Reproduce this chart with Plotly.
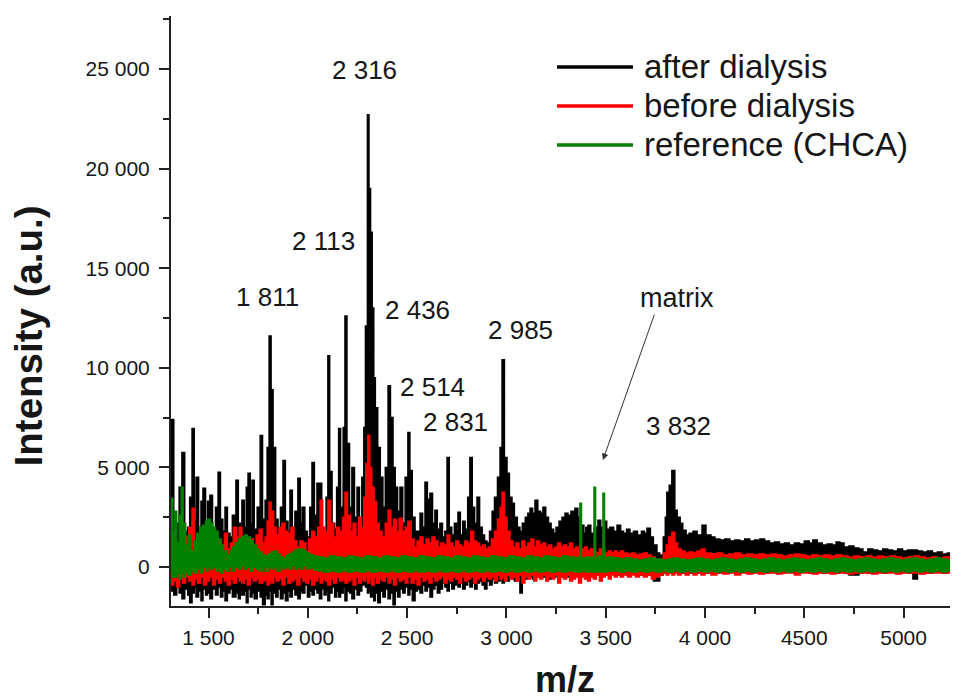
import plotly.graph_objects as go

# ---------------- data ----------------
after_mz = [1311,1325,1340,1352,1366,1380,1395,1405,1417,1428,
            1437,1450,1462,1472,1485,1495,1507,1520,1535,1548,
            1560,1572,1583,1595,1608,1620,1638,1650,1660,1668,
            1680,1690,1699,1710,1719,1730,1745,1760,1772,1785,
            1795,1805,1815,1825,1838,1850,1862,1875,1887,1900,
            1910,1922,1935,1950,1962,1971,1985,1998,2010,2021,
            2033,2046,2058,2070,2082,2092,2101,2110,2122,2135,
            2145,2155,2165,2178,2187,2197,2210,2222,2235,2248,
            2260,2272,2282,2290,2300,2308,2316,2324,2332,2340,
            2352,2365,2378,2390,2404,2416,2429,2440,2452,2464,
            2478,2490,2504,2514,2526,2540,2552,2565,2578,2590,
            2602,2615,2628,2640,2652,2665,2678,2690,2701,2712,
            2725,2738,2748,2756,2768,2780,2792,2805,2816,2828,
            2840,2852,2865,2878,2890,2902,2915,2928,2940,2955,
            2968,2978,2990,3003,3015,3028,3040,3055,3068,3080,
            3095,3108,3119,3132,3144,3158,3172,3184,3198,3212,
            3225,3238,3250,3265,3280,3295,3310,3325,3345,3360,
            3375,3390,3400,3411,3425,3441,3461,3475,3490,3505,
            3520,3540,3557,3575,3590,3605,3622,3640,3660,3680,
            3695,3708,3725,3740,3758,3772,3790,3800,3808,3820,
            3833,3848,3860,3875,3888,3905,3920,3940,3960,3985,
            4005,4030,4050,4075,4100,4125,4150,4175,4200,4225,
            4250,4277,4300,4325,4350,4375,4400,4425,4450,4475,
            4500,4525,4543,4565,4590,4615,4640,4660,4679,4700,
            4725,4750,4775,4795,4820,4845,4870,4895,4920,4945,
            4970,4995,5020,5047,5070,5095,5120,5145,5170,5195,
            5220,5245,5269]
after_hi = [7400,1800,2200,4000,5750,1800,2000,3500,6950,2300,
            4500,2000,3300,3950,2000,3300,3600,1800,3000,4750,
            2400,1800,3000,1700,1500,2600,4350,2200,1800,3350,
            2000,4000,4700,2200,4350,1900,3000,6600,2400,3350,
            6000,11600,8900,6000,2400,1900,3000,5350,2300,1800,
            3850,1900,2800,4450,2200,3000,1800,1500,3000,5250,
            2600,4200,4200,1900,1800,3500,10600,4800,2200,1900,
            4000,6950,3000,7000,12600,6200,3000,5000,2500,4000,
            2200,4500,7000,12100,22700,19000,16800,13000,9500,8000,
            6000,4500,3000,5000,9100,7500,5000,4000,2800,4000,
            2200,4500,6750,4850,2500,1800,1800,2700,2000,4250,
            3400,3700,2200,2850,1900,2200,1500,1800,5500,2000,
            1600,2200,1800,2750,1600,2300,1900,3500,5500,3000,
            2200,3500,2000,1600,1300,1200,1800,2800,3500,4500,
            6000,10400,5500,4700,3500,3200,2500,2000,1800,2200,
            2500,2700,2950,2700,3350,2800,2700,3000,2500,2200,
            1900,1700,2000,2300,2500,2700,2600,2800,2950,2500,
            2100,1700,2000,2100,1700,2000,2350,2000,2300,1900,
            2000,1800,2100,1800,1700,1900,1700,1800,1600,1800,
            1700,1950,1500,1100,700,600,1500,2500,3750,4100,
            4850,2850,2500,2200,1850,1600,1700,1800,1600,2100,
            1600,1500,1400,1350,1400,1300,1350,1300,1400,1300,
            1350,1400,1300,1200,1250,1150,1200,1100,1200,1150,
            1300,1200,1350,1200,1100,1150,1100,1250,1200,1000,
            1050,950,900,750,900,850,800,900,850,800,
            900,800,850,850,800,750,800,700,750,650,
            700,650,700]
after_lo = [-600,-1200,-1400,-1000,-1300,-1600,-1100,-1400,-1800,-1300,
            -1000,-1500,-1200,-1700,-1100,-1400,-1300,-1600,-1100,-1400,
            -1000,-1500,-1200,-1700,-1300,-1100,-1500,-1300,-1600,-1100,
            -1400,-1200,-1800,-1100,-1500,-1300,-1600,-1200,-1500,-1900,
            -1400,-1600,-1200,-1900,-1300,-1500,-1100,-1600,-1300,-1700,
            -1200,-1500,-1100,-1400,-1600,-1200,-1300,-900,-1500,-1200,
            -1400,-1100,-1300,-1600,-1100,-1400,-1200,-1700,-1300,-1000,
            -1500,-1200,-1500,-1300,-1000,-1700,-1200,-1300,-1600,-1100,
            -1400,-1200,-900,-800,-1000,-1300,-1100,-1500,-1200,-1700,
            -1300,-1800,-1200,-1500,-1100,-1600,-1300,-1900,-1200,-1500,
            -1100,-1300,-1000,-1400,-1100,-1700,-1200,-1100,-1300,-900,
            -1200,-1000,-1500,-1100,-900,-1300,-1100,-800,-1000,-1200,
            -800,-1100,-900,-700,-1000,-800,-1100,-900,-700,-1000,
            -800,-1100,-800,-700,-900,-1100,-700,-900,-600,-800,
            -700,-600,-800,-500,-700,-500,-600,-700,-400,-1300,
            -500,-600,-400,-500,-600,-400,-500,-400,-500,-400,
            -600,-400,-500,-400,-500,-400,-300,-500,-400,-300,
            -400,-300,-400,-300,-400,-300,-400,-300,-400,-300,
            -400,-300,-300,-400,-300,-300,-400,-300,-300,-300,
            -400,-300,-400,-400,-700,-700,-400,-300,-200,-300,
            -200,-300,-200,-300,-200,-300,-200,-300,-200,-300,
            -200,-300,-200,-300,-200,-300,-200,-300,-200,-200,
            -300,-200,-200,-300,-200,-200,-300,-200,-200,-300,
            -200,-200,-300,-200,-200,-300,-200,-200,-300,-200,
            -300,-400,-400,-300,-200,-300,-200,-200,-300,-200,
            -200,-300,-200,-300,-600,-200,-200,-300,-200,-200,
            -300,-200,-200]

before_mz = [1311,1325,1340,1355,1370,1385,1400,1417,1430,1445,
             1460,1475,1490,1505,1520,1535,1550,1565,1580,1595,
             1610,1625,1640,1655,1668,1680,1695,1710,1725,1740,
             1755,1770,1785,1795,1805,1815,1828,1840,1855,1870,
             1885,1900,1915,1930,1945,1960,1975,1990,2005,2020,
             2035,2050,2062,2075,2088,2101,2115,2130,2145,2160,
             2175,2187,2200,2215,2228,2242,2256,2270,2282,2292,
             2302,2312,2322,2334,2346,2360,2374,2390,2404,2418,
             2432,2446,2460,2475,2490,2504,2520,2535,2550,2565,
             2580,2595,2610,2625,2640,2655,2670,2685,2701,2715,
             2730,2745,2760,2775,2790,2805,2820,2835,2850,2865,
             2880,2895,2910,2925,2940,2955,2968,2978,2990,3003,
             3018,3033,3048,3063,3078,3093,3108,3123,3138,3153,
             3168,3183,3198,3213,3228,3243,3258,3273,3288,3303,
             3318,3333,3348,3363,3378,3393,3408,3423,3438,3453,
             3468,3483,3498,3513,3528,3543,3558,3573,3590,3610,
             3630,3650,3670,3690,3710,3730,3750,3770,3790,3805,
             3818,3833,3848,3862,3880,3900,3920,3940,3960,3980,
             4000,4030,4060,4090,4120,4150,4180,4210,4240,4270,
             4300,4330,4360,4390,4420,4450,4480,4510,4540,4570,
             4600,4630,4660,4690,4720,4750,4780,4810,4840,4870,
             4900,4930,4960,4990,5020,5050,5080,5110,5140,5170,
             5200,5230,5260,5270]
before_hi = [800,200,600,300,900,1500,2000,2950,1200,500,
             1500,900,1200,600,1000,800,1400,700,1700,900,
             1200,2000,1500,2000,1200,1500,1000,1400,1100,1600,
             1900,1200,1500,2300,3250,2800,2000,1600,2000,2200,
             1800,1700,2000,1300,1000,1300,1200,800,1400,1800,
             1500,2000,3350,2000,1800,3350,2200,1500,2000,1800,
             2500,3750,2600,1800,2200,1500,2500,2000,3500,5200,
             6600,5000,4000,3300,2200,1800,1500,2200,2850,2000,
             2400,1800,2450,1800,2000,2300,1400,1000,1300,1500,
             1100,1400,1200,1500,1300,1000,1200,1100,1600,1200,
             1000,1300,1100,1000,1300,1200,1800,1300,1200,1000,
             1100,900,1000,1400,1800,2400,3000,3750,2500,1800,
             1300,1000,1200,900,1300,1000,1200,1400,1000,1300,
             1100,1200,1000,1100,900,1000,1200,1000,1100,1000,
             1200,900,1000,800,900,1000,800,900,800,700,
             900,800,700,800,700,800,700,800,700,650,
             700,600,650,700,600,500,300,400,700,1100,
             1500,1750,1200,900,800,700,750,700,800,900,
             700,650,700,600,650,700,600,650,600,650,
             600,650,600,550,600,650,600,550,600,550,
             600,550,600,550,500,550,500,550,500,550,
             500,550,500,450,500,550,500,450,500,450,
             500,450,500,450]
before_lo = [-500,-900,-700,-1000,-600,-800,-500,-700,-900,-600,
             -800,-500,-900,-700,-500,-900,-600,-800,-500,-700,
             -900,-600,-800,-500,-700,-800,-600,-900,-500,-700,
             -600,-800,-700,-600,-900,-700,-800,-500,-700,-600,
             -900,-500,-800,-700,-600,-900,-500,-700,-800,-600,
             -900,-700,-500,-800,-600,-700,-900,-600,-800,-500,
             -700,-600,-800,-700,-600,-900,-500,-800,-600,-700,
             -500,-800,-600,-900,-500,-800,-600,-700,-500,-800,
             -600,-900,-500,-700,-600,-800,-500,-800,-600,-900,
             -500,-700,-600,-800,-500,-700,-600,-500,-800,-600,
             -700,-500,-600,-800,-500,-700,-600,-500,-800,-600,
             -500,-700,-500,-600,-500,-700,-400,-600,-500,-700,
             -400,-600,-500,-700,-400,-800,-500,-600,-400,-700,
             -500,-600,-400,-700,-500,-600,-400,-800,-500,-600,
             -400,-700,-600,-500,-800,-500,-600,-700,-500,-600,
             -400,-700,-500,-400,-600,-400,-500,-400,-500,-400,
             -500,-400,-500,-400,-500,-400,-600,-500,-400,-300,
             -400,-300,-400,-300,-400,-300,-400,-300,-400,-300,
             -400,-300,-400,-300,-350,-300,-400,-300,-350,-300,
             -350,-300,-300,-350,-300,-300,-400,-300,-300,-350,
             -300,-300,-350,-300,-300,-350,-300,-300,-300,-350,
             -300,-300,-300,-350,-300,-300,-300,-350,-300,-300,
             -300,-300,-300,-300]

ref_mz = [1311,1320,1330,1340,1352,1362,1372,1385,1398,1410,
          1425,1440,1455,1470,1485,1497,1510,1522,1535,1548,
          1560,1575,1590,1605,1620,1635,1650,1665,1680,1695,
          1710,1725,1740,1755,1770,1785,1800,1815,1830,1845,
          1860,1875,1890,1905,1920,1935,1950,1965,1980,1995,
          2010,2030,2050,2080,2110,2140,2170,2200,2230,2260,
          2290,2320,2350,2380,2410,2440,2470,2500,2530,2560,
          2590,2620,2650,2680,2710,2740,2770,2800,2830,2860,
          2890,2920,2950,2980,3010,3040,3070,3100,3130,3160,
          3190,3220,3250,3280,3310,3340,3362,3370,3378,3400,
          3420,3433,3441,3449,3465,3478,3486,3494,3510,3540,
          3570,3600,3630,3660,3690,3720,3750,3780,3810,3840,
          3870,3900,3930,3960,3990,4020,4050,4080,4110,4140,
          4170,4200,4230,4260,4290,4320,4350,4380,4410,4440,
          4470,4500,4530,4560,4590,4620,4650,4680,4710,4740,
          4770,4800,4830,4860,4890,4920,4950,4980,5010,5040,
          5070,5100,5130,5160,5190,5220,5250,5270]
ref_hi = [3450,1800,2800,1200,2600,4000,2200,1100,1600,800,
          1300,1700,2000,2100,2300,2400,2200,2000,1800,1400,
          1100,800,600,800,1000,1200,1400,1500,1600,1500,
          1300,1100,900,750,600,550,650,750,800,650,
          500,450,550,650,750,850,900,900,800,700,
          600,550,500,450,550,500,450,550,500,450,
          550,500,450,550,500,450,550,500,450,550,
          500,450,550,500,450,550,500,450,550,500,
          450,550,500,450,550,500,450,550,500,450,
          550,500,450,550,500,450,500,3200,450,500,
          450,500,4000,450,550,500,3700,450,500,450,
          400,450,400,350,400,450,400,350,400,450,
          400,350,400,450,400,350,400,450,400,350,
          400,450,400,350,400,450,400,350,400,450,
          400,350,400,450,400,350,400,450,400,350,
          400,450,400,350,400,450,400,350,400,450,
          400,350,400,450,400,350,400,450]
ref_lo = [-300,-500,-200,-500,-300,-600,-300,-500,-300,-400,
          -200,-300,-100,-300,0,-200,0,-100,0,-200,
          0,-300,-100,-200,0,-200,0,-100,50,-100,
          0,-200,0,-100,-200,0,-200,0,-100,0,
          -200,0,-100,0,-100,50,-100,0,-100,50,
          -100,-50,-150,-200,-250,-200,-250,-200,-250,-200,
          -250,-200,-250,-200,-250,-200,-250,-200,-250,-200,
          -250,-200,-250,-200,-250,-200,-250,-200,-250,-200,
          -250,-200,-250,-200,-250,-200,-250,-200,-250,-200,
          -250,-200,-250,-200,-250,-200,-250,-200,-250,-200,
          -250,-200,-250,-200,-250,-200,-250,-200,-250,-200,
          -200,-250,-200,-250,-200,-250,-200,-250,-200,-250,
          -200,-250,-200,-250,-200,-250,-200,-250,-200,-250,
          -200,-250,-200,-250,-200,-250,-200,-250,-200,-250,
          -200,-250,-200,-250,-200,-250,-200,-250,-200,-250,
          -200,-250,-200,-250,-200,-250,-200,-250,-200,-250,
          -200,-250,-200,-250,-200,-250,-200,-250]

series_names = ["after dialysis", "before dialysis", "reference (CHCA)"]
series_colors = ["#000000", "#ff0000", "#008000"]

x_tickvals = [1500, 2000, 2500, 3000, 3500, 4000, 4500, 5000]
x_ticktext = ["1 500", "2 000", "2 500", "3 000", "3 500", "4 000", "4500", "5000"]
y_tickvals = [0, 5000, 10000, 15000, 20000, 25000]
y_ticktext = ["0", "5 000", "10 000", "15 000", "20 000", "25 000"]

peak_labels = ["2 316", "2 113", "1 811", "2 436", "2 985", "2 514", "2 831", "3 832"]
peak_label_pos = [(2283, 24950), (2081, 16365), (1799, 13554), (2550, 12900),
                  (3073, 11900), (2630, 9036), (2746, 7280), (3869, 7080)]

FONT = "Liberation Sans, Arial, Helvetica, sans-serif"
TXT = "#161616"

fig = go.Figure()
for (mz, hi, lo), name, col in zip(
        [(after_mz, after_hi, after_lo), (before_mz, before_hi, before_lo), (ref_mz, ref_hi, ref_lo)],
        series_names, series_colors):
    n = min(len(mz), len(hi), len(lo))
    xs = list(mz[:n]) + list(mz[:n])[::-1]
    ys = list(hi[:n]) + list(lo[:n])[::-1]
    fig.add_trace(go.Scatter(x=xs, y=ys, mode="lines", name=name, fill="toself",
                             fillcolor=col, line=dict(color=col, width=1.5, shape="hv"),
                             showlegend=False, hoverinfo="skip"))

# custom legend (lines + text) in paper coords
leg_rows_y = [0.9136, 0.8475, 0.7814]
for name, col, yy in zip(series_names, series_colors, leg_rows_y):
    fig.add_shape(type="line", xref="paper", yref="paper", x0=0.4905, x1=0.587,
                  y0=yy, y1=yy, line=dict(color=col, width=3.5))
    fig.add_annotation(xref="paper", yref="paper", x=0.5985, y=yy, text=name,
                       showarrow=False, xanchor="left", yanchor="middle",
                       font=dict(family=FONT, size=33, color=TXT))

for txt, (px, py) in zip(peak_labels, peak_label_pos):
    fig.add_annotation(x=px, y=py, text=txt, showarrow=False, xanchor="center",
                       yanchor="middle", font=dict(family=FONT, size=26, color=TXT))

fig.add_annotation(x=3859, y=13500, text="matrix", showarrow=False, xanchor="center",
                   yanchor="middle", font=dict(family=FONT, size=27, color=TXT))
fig.add_annotation(x=3486, y=5371, ax=52, ay=-147, text="", showarrow=True,
                   arrowhead=2, arrowsize=1.3, arrowwidth=1, arrowcolor="#333333")

# axis titles
fig.add_annotation(xref="paper", yref="paper", x=-0.1817, y=0.457, text="<b>Intensity (a.u.)</b>",
                   textangle=-90, showarrow=False, xanchor="center", yanchor="middle",
                   font=dict(family=FONT, size=38.5, color=TXT))
fig.add_annotation(xref="paper", yref="paper", x=0.5, y=-0.086, text="<b>m/z</b>",
                   showarrow=False, xanchor="center", yanchor="top",
                   font=dict(family=FONT, size=36, color=TXT))

# the page body has an 8px margin: the figure is sized so the plot area lands
# on the same pixels as the reference (x 171..958, y 16..606)
fig.update_layout(
    width=950, height=691,
    margin=dict(l=163, r=0, t=8, b=93),
    paper_bgcolor="white", plot_bgcolor="white",
    font=dict(family=FONT, color=TXT),
    xaxis=dict(range=[1311, 5274], showgrid=False, zeroline=False,
               showline=True, linecolor="#222222", linewidth=2,
               ticks="outside", ticklen=10, tickwidth=2, tickcolor="#222222",
               tickmode="array", tickvals=x_tickvals, ticktext=x_ticktext,
               tickfont=dict(family=FONT, size=21, color=TXT),
               ticklabelstandoff=2,
               minor=dict(tickmode="linear", tick0=0, dtick=250, ticks="outside",
                          ticklen=6, tickwidth=2, tickcolor="#222222", showgrid=False)),
    yaxis=dict(range=[-1958, 27660], showgrid=False, zeroline=False,
               showline=True, linecolor="#222222", linewidth=2,
               ticks="outside", ticklen=10, tickwidth=2, tickcolor="#222222",
               tickmode="array", tickvals=y_tickvals, ticktext=y_ticktext,
               tickfont=dict(family=FONT, size=21, color=TXT),
               ticklabelstandoff=5,
               minor=dict(tickmode="linear", tick0=0, dtick=2500, ticks="outside",
                          ticklen=6, tickwidth=2, tickcolor="#222222", showgrid=False)),
)

fig.write_html("out.html")
